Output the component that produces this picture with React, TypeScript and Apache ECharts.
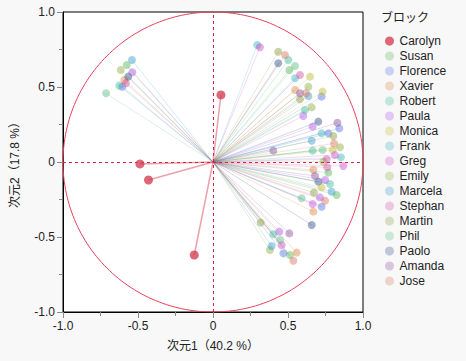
import React, { useEffect, useRef } from "react";
import * as echarts from "echarts";

const FONT = "'Liberation Sans', 'Noto Sans CJK JP', sans-serif";

const blockNames = [
  "Carolyn", "Susan", "Florence", "Xavier", "Robert", "Paula", "Monica", "Frank",
  "Greg", "Emily", "Marcela", "Stephan", "Martin", "Phil", "Paolo", "Amanda", "Jose",
];

const carolyn = [[0.053, 0.447], [-0.487, -0.013], [-0.43, -0.12], [-0.125, -0.62]];
const susan = [[-0.575, 0.647], [0.509, 0.613], [0.769, -0.071], [0.824, -0.22], [0.513, -0.62]];
const florence = [[-0.605, 0.502], [0.724, 0.436], [0.842, 0.224], [0.769, 0.191], [0.724, -0.298], [0.469, -0.609]];
const xavier = [[-0.591, 0.547], [0.547, 0.48], [0.669, -0.053], [0.669, -0.331], [0.558, -0.604]];
const robert = [[-0.625, 0.509], [0.502, 0.68], [0.613, 0.347], [0.664, 0.076], [0.78, -0.147], [0.402, -0.482]];
const paula = [[-0.538, 0.598], [0.602, 0.307], [0.664, 0.236], [0.747, -0.12], [0.713, -0.236], [0.442, -0.464]];
const monica = [[0.647, 0.569], [0.731, 0.469], [0.798, 0.08], [0.724, -0.169]];
const frank = [[0.295, 0.78], [0.547, 0.558], [0.724, 0.191], [0.853, 0.031]];
const greg = [[0.313, 0.765], [0.813, 0.047], [0.869, -0.027], [0.664, -0.28], [0.458, -0.553]];
const emily = [[-0.615, 0.613], [0.636, 0.502], [0.658, 0.364], [0.847, 0.098], [0.736, 0.002], [0.38, -0.587]];
const marcela = [[-0.54, 0.68], [0.636, 0.44], [0.658, 0.142], [0.791, -0.198], [0.391, -0.56]];
const stephan = [[-0.58, 0.525], [0.58, 0.58], [0.758, 0.018], [0.762, -0.036]];
const martin = [[0.435, 0.735], [0.58, 0.418], [0.802, 0.173], [0.673, -0.204], [0.318, -0.404]];
const phil = [[-0.713, 0.458], [0.547, 0.64], [0.731, 0.08], [0.591, -0.242], [0.447, -0.52]];
const paolo = [[-0.565, 0.569], [0.435, 0.658], [0.702, 0.269], [0.702, -0.131], [0.658, -0.42]];
const amanda = [[0.58, 0.458], [0.829, 0.262], [0.402, 0.076], [0.68, -0.093], [0.509, -0.476]];
const jose = [[0.48, 0.713], [0.62, 0.458], [0.807, 0.124], [0.747, -0.258], [0.536, -0.658]];

const blockPoints = [
  carolyn, susan, florence, xavier, robert, paula, monica, frank,
  greg, emily, marcela, stephan, martin, phil, paolo, amanda, jose,
];

const xTitle = "次元1（40.2 %）";
const yTitle = "次元2（17.8 %）";
const legendTitle = "ブロック";

// styles
const baseColors = [
  [212, 56, 78], [80, 180, 80], [80, 110, 225], [215, 130, 60], [50, 185, 150],
  [170, 80, 225], [190, 185, 40], [50, 175, 185], [205, 70, 200], [140, 170, 60],
  [50, 150, 200], [210, 70, 160], [135, 150, 50], [90, 185, 130], [40, 70, 130],
  [135, 70, 155], [215, 110, 90],
];
const rgba = (c: number[], a: number) => `rgba(${c[0]},${c[1]},${c[2]},${a})`;

export default function App() {
  const ref = useRef<HTMLDivElement>(null);
  useEffect(() => {
    document.body.style.margin = "0";
    const chart = echarts.init(ref.current!, undefined, { renderer: "svg" });
    const circle: number[][] = [];
    for (let i = 0; i <= 240; i++) {
      const t = (i / 240) * Math.PI * 2;
      circle.push([Math.cos(t), Math.sin(t)]);
    }
    const fmt = (v: number) => (v === 0 ? "0" : v.toFixed(1));
    const axisCommon = {
      type: "value",
      min: -1,
      max: 1,
      interval: 0.5,
      axisLine: { show: true, onZero: false, lineStyle: { color: "#000", width: 1 } },
      axisTick: { show: true, length: 6, lineStyle: { color: "#888" } },
      minorTick: { show: true, splitNumber: 2, length: 4, lineStyle: { color: "#888" } },
      splitLine: { show: false },
      minorSplitLine: { show: false },
      axisLabel: { color: "#222", fontSize: 12, margin: 8, formatter: fmt, fontFamily: FONT },
      nameLocation: "middle",
      nameTextStyle: { color: "#222", fontSize: 12, fontFamily: FONT },
    };
    const series: any[] = [];
    blockPoints.forEach((pts, i) => {
      const isC = i === 0;
      series.push({
        type: "lines",
        coordinateSystem: "cartesian2d",
        silent: true,
        z: isC ? 4 : 2,
        lineStyle: { color: isC ? rgba(baseColors[i], 0.95) : rgba(baseColors[i], 0.42), width: isC ? 1.5 : 1 },
        data: pts.map((p) => ({ coords: [[0, 0], p] })),
      });
    });
    blockPoints.forEach((pts, i) => {
      const isC = i === 0;
      series.push({
        type: "scatter",
        name: blockNames[i],
        symbol: "circle",
        symbolSize: isC ? 9 : 8,
        z: isC ? 5 : 3,
        itemStyle: { color: isC ? rgba(baseColors[i], 0.95) : rgba(baseColors[i], 0.55) },
        data: pts,
      });
    });
    series.push({
      type: "line",
      data: circle,
      showSymbol: false,
      silent: true,
      z: 1,
      lineStyle: { color: "#e8405a", width: 1 },
      markLine: {
        silent: true,
        symbol: "none",
        label: { show: false },
        lineStyle: { color: "#e02040", type: [3, 3], width: 1 },
        data: [{ xAxis: 0 }, { yAxis: 0 }],
      },
    });
    chart.setOption({
      animation: false,
      backgroundColor: "#f8f8f8",
      textStyle: { fontFamily: FONT },
      grid: {
        left: 63, top: 12, width: 300, height: 300, show: true,
        backgroundColor: "#fff", borderColor: "#000", borderWidth: 1,
      },
      xAxis: { ...axisCommon, name: xTitle, nameGap: 28 },
      yAxis: { ...axisCommon, name: yTitle, nameGap: 42 },
      legend: {
        orient: "vertical",
        left: 385,
        top: 34,
        padding: 0,
        itemWidth: 10,
        itemHeight: 9,
        itemGap: 1,
        icon: "circle",
        selectedMode: false,
        textStyle: { fontSize: 12, color: "#222", fontFamily: FONT, lineHeight: 14 },
        data: blockNames.map((n, i) => ({
          name: n,
          itemStyle: { color: i === 0 ? rgba(baseColors[i], 0.95) : rgba(baseColors[i], 0.35) },
        })),
      },
      graphic: [
        {
          type: "text",
          left: 381,
          top: 12,
          style: { text: legendTitle, fontSize: 12, fill: "#222", fontFamily: FONT },
        },
      ],
      series,
    });
    return () => chart.dispose();
  }, []);
  return <div ref={ref} style={{ width: 466, height: 361 }} />;
}
